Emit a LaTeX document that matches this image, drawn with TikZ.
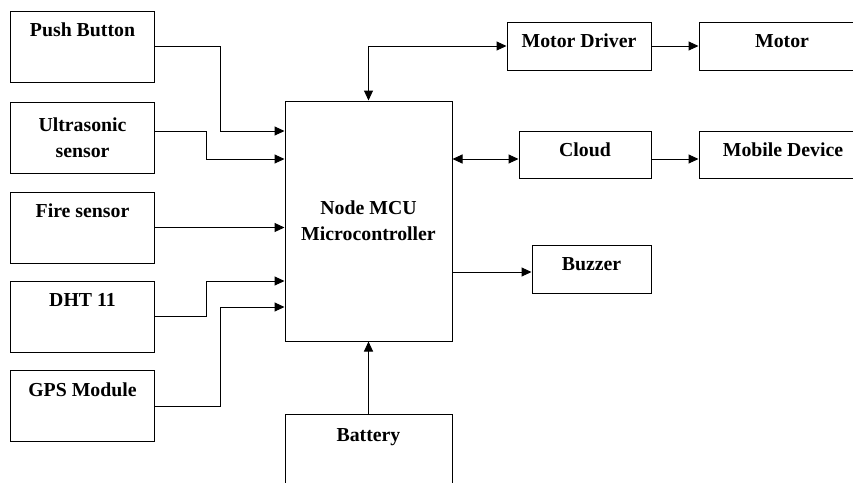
\documentclass[tikz,border=0pt]{standalone}
\usepackage{fontspec}
\setmainfont{Liberation Serif}
\usetikzlibrary{arrows.meta}

\begin{document}
\begin{tikzpicture}[x=1pt,y=-1pt,
  font=\fontsize{19.8}{26}\selectfont\bfseries,
  blk/.style={draw,line width=1pt,inner sep=0pt,align=center},
  lbl/.style={anchor=north,inner sep=0pt,yshift=-12.5pt},
  arr/.style={line width=1pt,-{Triangle[length=10pt,width=9pt]}},
  darr/.style={line width=1pt,{Triangle[length=10pt,width=9pt]}-{Triangle[length=10pt,width=9pt]}}]
\useasboundingbox (0,0) rectangle (853,482);

% inputs
\node[blk,minimum width=144pt,minimum height=71pt,label={[lbl]north:Push Button}] (push) at (82.5,46.5) {};
\node[blk,minimum width=144pt,minimum height=71pt] (ultra) at (82.5,137.5) {Ultrasonic\\sensor};
\node[blk,minimum width=144pt,minimum height=71pt,label={[lbl]north:Fire sensor}] (fire) at (82.5,227.5) {};
\node[blk,minimum width=144pt,minimum height=71pt,label={[lbl]north:DHT 11}] (dht) at (82.5,316.5) {};
\node[blk,minimum width=144pt,minimum height=71pt,label={[lbl]north:GPS Module}] (gps) at (82.5,406) {};

% controller and supply
\node[blk,minimum width=167pt,minimum height=240pt] (mcu) at (368.5,221) {Node MCU\\Microcontroller};
\node[blk,minimum width=167pt,minimum height=90pt,label={[lbl,yshift=-2pt]north:Battery}] (bat) at (368.5,459) {};

% outputs
\node[blk,minimum width=144pt,minimum height=48pt,label={[lbl]north:Motor Driver}] (mdrv) at (579,46) {};
\node[blk,minimum width=164pt,minimum height=48pt,label={[lbl,xshift=1pt]north:Motor}] (motor) at (781,46) {};
\node[blk,minimum width=132pt,minimum height=47pt,label={[lbl]north:Cloud}] (cloud) at (585,154.5) {};
\node[blk,minimum width=164pt,minimum height=47pt,label={[lbl,xshift=2pt]north:Mobile Device}] (mobile) at (781,154.5) {};
\node[blk,minimum width=119pt,minimum height=48pt,label={[lbl]north:Buzzer}] (buzzer) at (591.5,269) {};

\draw[arr] (push.east) -- (220,46.5) |- (mcu.west |- 0,131);
\draw[arr] (ultra.east |- 0,131) -- (206,131) |- (mcu.west |- 0,159);
\draw[arr] (fire.east) -- (mcu.west |- fire.east);
\draw[arr] (dht.east) -- (206,316.5) |- (mcu.west |- 0,281);
\draw[arr] (gps.east) -- (220,406) |- (mcu.west |- 0,307);

\draw[darr] (mcu.north) |- (mdrv.west);
\draw[arr] (mdrv.east) -- (motor.west);
\draw[darr] (mcu.east |- 0,159) -- (cloud.west |- 0,159);
\draw[arr] (cloud.east |- 0,159) -- (mobile.west |- 0,159);
\draw[arr] (mcu.east |- 0,272) -- (buzzer.west |- 0,272);
\draw[arr] (bat.north) -- (mcu.south);
\end{tikzpicture}
\end{document}
